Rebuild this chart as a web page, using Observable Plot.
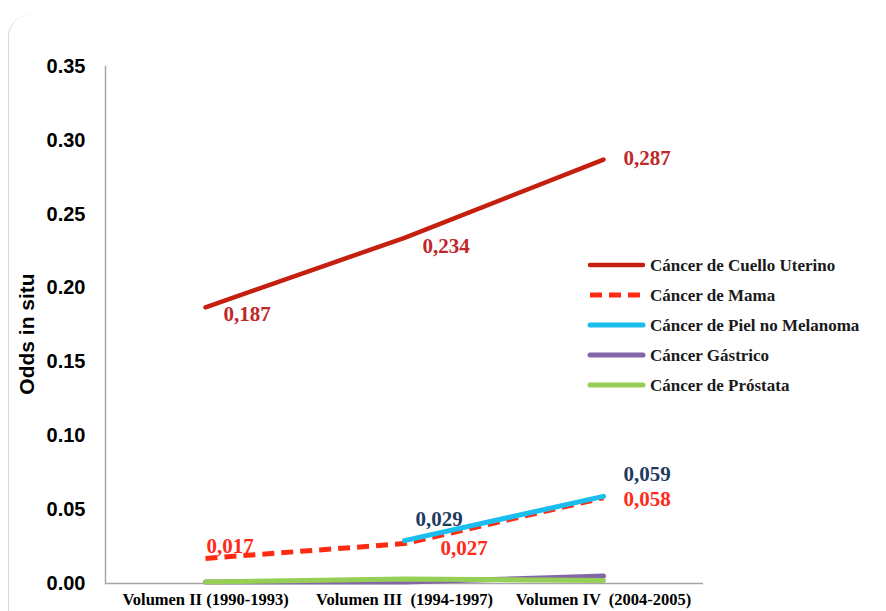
<!DOCTYPE html>
<html>
<head>
<meta charset="utf-8">
<script src="https://cdn.jsdelivr.net/npm/d3@7"></script>
<script src="https://cdn.jsdelivr.net/npm/@observablehq/plot@0.6"></script>
<style>
  body { margin: 0; background: #fff; }
  #wrap { position: relative; width: 886px; height: 611px; overflow: hidden; }
  #box { position: absolute; left: 8px; top: 15px; width: 1000px; height: 640px;
         border-left: 1px solid #d8d8d8; border-radius: 22px; }
  #chart { position: absolute; left: 0; top: 0; }
  #ytitle { position: absolute; left: 27px; top: 334px; transform: translate(-50%, -50%) rotate(-90deg);
            font: bold 21px "Liberation Sans", Arial, sans-serif; color: #000; white-space: nowrap; }
  #legend { position: absolute; left: 0; top: 0; }
  #chart svg text { white-space: pre; }
</style>
</head>
<body>
<div id="wrap">
  <div id="box"></div>
  <div id="chart"></div>
  <div id="ytitle">Odds in situ</div>
  <svg id="legend" width="886" height="611"></svg>
</div>
<script>
const categories = ["Volumen II (1990-1993)", "Volumen III  (1994-1997)", "Volumen IV  (2004-2005)"];
const seriesNames = ["Cáncer de Cuello Uterino", "Cáncer de Mama", "Cáncer de Piel no Melanoma", "Cáncer Gástrico", "Cáncer de Próstata"];
const cuello = [0.187, 0.234, 0.287];
const mama = [0.017, 0.027, 0.058];
const piel = [null, 0.029, 0.059];
const gastrico = [0.001, 0.001, 0.005];
const prostata = [0.001, 0.003, 0.002];
const yTicks = [0, 0.05, 0.10, 0.15, 0.20, 0.25, 0.30, 0.35];

const seriesValues = [cuello, mama, piel, gastrico, prostata];
const colors = ["#C5200F", "#FF2A12", "#19BDEE", "#8466A8", "#96CF55"];
const widths = [4.5, 5, 5, 5, 5];
const dashes = [null, "12,7", null, null, null];

const rows = [];
seriesNames.forEach((s, i) => {
  seriesValues[i].forEach((v, j) => {
    if (v != null) rows.push({series: s, cat: categories[j], value: v, idx: j});
  });
});
const bySeries = s => rows.filter(r => r.series === s);

// label styling: which series/point, its colour and offset
const labelStyle = [
  {s: 0, j: 0, dx: 18, dy: 7, fill: "#C0282A"},
  {s: 0, j: 1, dx: 18, dy: 8, fill: "#C0282A"},
  {s: 0, j: 2, dx: 20, dy: -1, fill: "#C0282A"},
  {s: 1, j: 0, dx: 1, dy: -12, fill: "#FF2A1A"},
  {s: 1, j: 1, dx: 36, dy: 5, fill: "#FF2A1A"},
  {s: 1, j: 2, dx: 20, dy: 1, fill: "#FF2A1A"},
  {s: 2, j: 1, dx: 11, dy: -21, fill: "#1F3A5F"},
  {s: 2, j: 2, dx: 20, dy: -22, fill: "#1F3A5F"}
];
const fmt = v => v.toFixed(3).replace(".", ",");

const drawOrder = [0, 3, 4, 1, 2];
const lineMarks = drawOrder.map(i => Plot.line(bySeries(seriesNames[i]), {
  x: "cat", y: "value", stroke: colors[i], strokeWidth: widths[i],
  strokeDasharray: dashes[i] || undefined, strokeLinecap: dashes[i] ? "butt" : "round"
}));

const labelMarks = labelStyle.map(l => {
  const r = rows.find(d => d.series === seriesNames[l.s] && d.idx === l.j);
  return Plot.text([r], {
    x: "cat", y: "value", text: d => fmt(d.value), dx: l.dx, dy: l.dy,
    textAnchor: "start", lineAnchor: "middle", fill: l.fill,
    fontFamily: "Liberation Serif, Times New Roman, serif", fontWeight: "bold", fontSize: 21
  });
});

const chart = Plot.plot({
  width: 886, height: 611,
  marginLeft: 105, marginRight: 183, marginTop: 66, marginBottom: 28,
  x: {type: "point", domain: categories, padding: 0.5},
  y: {domain: [0, 0.35]},
  style: {background: "transparent"},
  marks: [
    Plot.frame({anchor: "left", stroke: "#a6a6a6", strokeWidth: 1.5}),
    Plot.ruleY([0], {stroke: "#a6a6a6", strokeWidth: 1.5}),
    Plot.axisY({ticks: yTicks, tickSize: 0, tickPadding: 20, tickFormat: d => d.toFixed(2),
      fontSize: 20, fontWeight: "bold", fontFamily: "Liberation Sans, Arial, sans-serif", fill: "#000", label: null}),
    Plot.axisX({tickSize: 0, tickPadding: 10, fontSize: 16.5, fontWeight: "bold",
      fontFamily: "Liberation Serif, Times New Roman, serif", fill: "#000", label: null}),
    ...lineMarks,
    ...labelMarks
  ]
});
document.getElementById("chart").appendChild(chart);

// legend
const leg = d3.select("#legend");
const legX = 590, legY0 = 265, legStep = 30;
seriesNames.forEach((s, i) => {
  const y = legY0 + i * legStep;
  leg.append("line").attr("x1", legX).attr("x2", legX + 53).attr("y1", y).attr("y2", y)
    .attr("stroke", colors[i]).attr("stroke-width", i === 0 ? 4.5 : 5)
    .attr("stroke-dasharray", dashes[i] || null)
    .attr("stroke-linecap", dashes[i] ? "butt" : "round");
  leg.append("text").attr("x", legX + 60).attr("y", y).attr("dy", "0.35em")
    .attr("font-family", "Liberation Serif, Times New Roman, serif").attr("font-weight", "bold")
    .attr("font-size", 17).attr("fill", "#1a1a1a").text(s);
});
</script>
</body>
</html>
